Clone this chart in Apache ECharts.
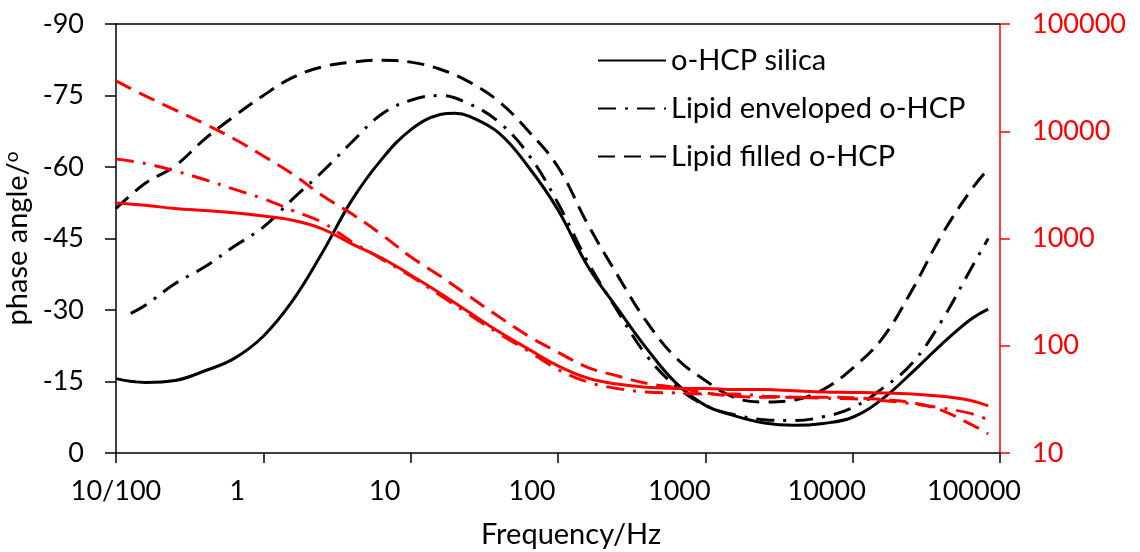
<!DOCTYPE html>
<html>
<head>
<meta charset="utf-8">
<script src="https://cdn.jsdelivr.net/npm/echarts@6/dist/echarts.min.js"></script>
<style>
html, body {margin: 0; padding: 0; background: #fff;}
#chart {width: 1140px; height: 552px;}
</style>
</head>
<body>
<div id="chart"></div>
<script>
// frequency samples (Hz), read every 0.2 decade
const freq = [0.1, 0.158, 0.251, 0.398, 0.631, 1, 1.585, 2.512, 3.981, 6.31, 10, 15.85, 25.12, 39.81, 63.1,
    100, 158.5, 251.2, 398.1, 631, 1000, 1585, 2512, 3981, 6310, 10000, 15850, 25120, 39810, 63100, 83180]
// silica phase also read at its peak
const freqSilica = [0.1, 0.158, 0.251, 0.398, 0.631, 1, 1.585, 2.512, 3.981, 6.31, 10, 15.85, 19.95, 25.12, 39.81, 63.1,
    100, 158.5, 251.2, 398.1, 631, 1000, 1585, 2512, 3981, 6310, 10000, 15850, 25120, 39810, 63100, 83180]
// enveloped phase curve starts a little later
const freqEnveloped = [0.126, 0.158, 0.251, 0.398, 0.631, 1, 1.585, 2.512, 3.981, 6.31, 10, 15.85, 25.12, 39.81, 63.1,
    100, 158.5, 251.2, 398.1, 631, 1000, 1585, 2512, 3981, 6310, 10000, 15850, 25120, 39810, 63100, 83180]

// phase angle (deg)
const phaseSilica = [-15.6, -14.8, -15.2, -17.2, -19.8, -24.5, -32, -42, -53, -61.5, -67.8, -71, -71.3, -70.6, -67.1, -60,
    -51, -39.3, -30.5, -22, -14.7, -10, -7.8, -6.3, -5.8, -6.2, -7.5, -11.3, -16.8, -22.7, -28, -30.2]
const phaseEnveloped = [-29.3, -31, -35.5, -39, -43.3, -47.4, -53.3, -59, -65.2, -71, -74, -75, -73.2, -69.4, -62.6,
    -52.4, -40.2, -30, -20.5, -14, -10, -8, -7, -6.8, -7.6, -9.5, -13.5, -18.7, -27.5, -38.5, -45]
const phaseFilled = [-51.3, -56.6, -60.2, -65.8, -70.6, -75, -78.8, -81, -82, -82.4, -82, -80.5, -77.8, -73.7, -67.5,
    -60, -48.1, -37.5, -27.6, -20, -15.2, -11.6, -10.7, -11.1, -13.3, -17.8, -24, -34, -45.5, -55, -59.6]

// impedance (ohm)
const zSilica = [2140, 2040, 1905, 1820, 1738, 1622, 1479, 1230, 891, 661, 457, 309, 204, 135, 93,
    65, 50, 44, 41, 40, 40, 39, 39, 38, 37, 36.7, 36.3, 35.5, 33.9, 30.9, 27.5]
const zEnveloped = [5500, 5000, 4266, 3548, 2884, 2344, 1820, 1413, 933, 646, 447, 295, 195, 129, 89,
    60, 46, 40, 37, 36.3, 35.5, 35.5, 33.9, 33.1, 32.4, 32, 30.9, 28.8, 26.3, 23.4, 20.4]
const zFilled = [29500, 21380, 15850, 11750, 8511, 5888, 3981, 2512, 1698, 1096, 676, 447, 288, 186, 123,
    87, 63, 52.5, 44.7, 40.7, 36.3, 33.9, 33.1, 33.1, 33.1, 32.7, 31.6, 29.5, 25.1, 18.6, 15.1]

const freqLabels = ['10/100', '1', '10', '100', '1000', '10000', '100000']
const legendNames = ['o-HCP silica', 'Lipid enveloped o-HCP', 'Lipid filled o-HCP']

const font = 'Lato'
const pairs = (xs, ys) => xs.map((x, i) => [x, ys[i]])
const DASH = [17, 9]
const DASHDOT = [18, 9, 3, 9]

const line = (name, color, type, data, yAxisIndex) => ({
    name: name,
    type: 'line',
    yAxisIndex: yAxisIndex,
    data: data,
    symbol: 'none',
    smooth: 0.4,
    lineStyle: {color: color, width: 3, type: type},
    itemStyle: {color: color},
    z: yAxisIndex ? 3 : 2
})

const chart = echarts.init(document.getElementById('chart'))
chart.setOption({
    animation: false,
    backgroundColor: '#fff',
    grid: {left: 116, right: 140, top: 24, bottom: 99, containLabel: false, outerBoundsMode: 'none'},
    legend: {
        data: legendNames,
        orient: 'vertical',
        left: 592,
        top: 41,
        itemWidth: 68,
        itemHeight: 14,
        itemGap: 19,
        itemStyle: {opacity: 0},
        textStyle: {fontFamily: font, fontSize: 29, color: '#000', lineHeight: 28}
    },
    xAxis: [{
        type: 'log',
        logBase: 10,
        min: 0.1,
        max: 100000,
        name: 'Frequency/Hz',
        nameLocation: 'middle',
        nameGap: 67,
        nameTextStyle: {fontFamily: font, fontSize: 29, color: '#000', padding: [0, 0, 0, 26]},
        axisLine: {show: true, onZero: false, lineStyle: {color: '#000', width: 1.5}},
        axisTick: {show: true, inside: false, length: 10, lineStyle: {color: '#000', width: 1.5}},
        minorTick: {show: false},
        splitLine: {show: false},
        axisLabel: {
            margin: 25,
            formatter: (v, i) => i === 0 ? '{a|' + freqLabels[0] + '}' : '{b|' + freqLabels[i] + '}',
            rich: {
                a: {fontFamily: font, fontSize: 27, color: '#000'},
                b: {fontFamily: font, fontSize: 27, color: '#000', padding: [0, 52, 0, 0]}
            }
        }
    }, {
        type: 'log',
        logBase: 10,
        min: 0.1,
        max: 100000,
        position: 'top',
        axisLine: {show: true, onZero: false, lineStyle: {color: '#000', width: 1.5}},
        axisTick: {show: false},
        axisLabel: {show: false},
        splitLine: {show: false}
    }],
    yAxis: [{
        type: 'value',
        min: -90,
        max: 0,
        interval: 15,
        inverse: true,
        name: 'phase angle/{sup|o}',
        nameLocation: 'middle',
        nameRotate: 90,
        nameGap: 63,
        nameTextStyle: {
            fontFamily: font, fontSize: 29, color: '#000',
            rich: {sup: {fontFamily: font, fontSize: 19, color: '#000', verticalAlign: 'top', lineHeight: 28}}
        },
        axisLine: {show: true, onZero: false, lineStyle: {color: '#000', width: 1.5}},
        axisTick: {show: true, length: 11, lineStyle: {color: '#000', width: 1.5}},
        splitLine: {show: false},
        axisLabel: {margin: 32, fontFamily: font, fontSize: 27, color: '#000'}
    }, {
        type: 'log',
        logBase: 10,
        min: 10,
        max: 100000,
        position: 'right',
        name: 'Z/ohm',
        nameLocation: 'middle',
        nameRotate: 90,
        nameGap: 117,
        nameTextStyle: {fontFamily: font, fontSize: 29, color: '#ff0000'},
        axisLine: {show: true, onZero: false, lineStyle: {color: '#ff0000', width: 1.5}},
        axisTick: {show: true, length: 10, lineStyle: {color: '#ff0000', width: 1.5}},
        minorTick: {show: false},
        splitLine: {show: false},
        axisLabel: {
            margin: 32, fontFamily: font, fontSize: 27, color: '#ff0000',
            formatter: v => String(Math.round(v))
        }
    }],
    series: [
        line(legendNames[0], '#000', 'solid', pairs(freqSilica, phaseSilica), 0),
        line(legendNames[1], '#000', DASHDOT, pairs(freqEnveloped, phaseEnveloped), 0),
        line(legendNames[2], '#000', DASH, pairs(freq, phaseFilled), 0),
        line('Z silica', '#ff0000', 'solid', pairs(freq, zSilica), 1),
        line('Z enveloped', '#ff0000', DASHDOT, pairs(freq, zEnveloped), 1),
        line('Z filled', '#ff0000', DASH, pairs(freq, zFilled), 1)
    ]
})
</script>
</body>
</html>
